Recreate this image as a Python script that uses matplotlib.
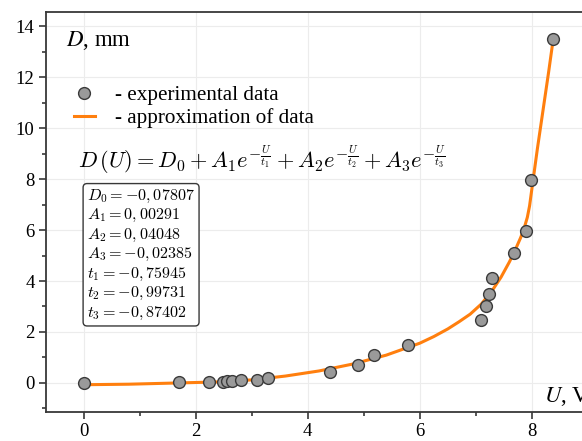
import numpy as np
import matplotlib.pyplot as plt

plt.rcParams['font.family'] = 'serif'
plt.rcParams['font.serif'] = ['Liberation Serif', 'DejaVu Serif']
plt.rcParams['mathtext.fontset'] = 'stix'

# experimental points (U in V, D in mm)
u_exp = [0.0, 1.70, 2.24, 2.49, 2.56, 2.64, 2.80, 3.10, 3.29, 4.39, 4.89, 5.18, 5.79,
         7.09, 7.19, 7.24, 7.29, 7.68, 7.89, 7.98, 8.38]
d_exp = [0.0, 0.02, 0.04, 0.05, 0.06, 0.08, 0.12, 0.12, 0.18, 0.43, 0.71, 1.10, 1.49,
         2.48, 3.00, 3.49, 4.10, 5.08, 5.98, 7.97, 13.49]

# approximation curve
u_fit = [0.0, 0.8, 1.7, 2.4, 3.0, 3.6, 4.2, 4.8, 5.4, 6.0, 6.25, 6.5, 6.7, 6.9, 7.1,
         7.3, 7.45, 7.6, 7.7, 7.8, 7.86, 7.92, 7.96, 8.0, 8.05, 8.1, 8.2, 8.3, 8.38]
d_fit = [-0.07, -0.05, 0.0, 0.04, 0.12, 0.27, 0.47, 0.74, 1.09, 1.56, 1.82, 2.12, 2.4,
         2.7, 3.1, 3.65, 4.15, 4.75, 5.2, 5.7, 6.05, 6.5, 6.95, 7.6, 8.4, 9.2, 10.7,
         12.2, 13.46]

params = [r'D_0 = -0,07807', r'A_1 = 0,00291', r'A_2 = 0,04048', r'A_3 = -0,02385',
          r't_1 = -0,75945', r't_2 = -0,99731', r't_3 = -0,87402']

fig = plt.figure(figsize=(5.82, 4.41), dpi=100)
ax = fig.add_axes([0.0785, 0.0658, 0.970, 0.9077])

ax.plot(u_fit, d_fit, color='#ff7f0e', lw=2.2, zorder=3, label='- approximation of data',
        solid_joinstyle='round')
ax.plot(u_exp, d_exp, 'o', ms=8.5, mfc='#9a9a9a', mec='#3a3a3a', mew=1.0, zorder=4,
        label='- experimental data')

ax.set_xlim(-0.68, 9.4)
ax.set_ylim(-1.14, 14.57)
ax.set_xticks([0, 2, 4, 6, 8])
ax.set_xticks([1, 3, 5, 7, 9], minor=True)
ax.set_yticks(range(0, 15, 2))
ax.set_yticks(range(-1, 15, 2), minor=True)
ax.grid(True, color='#ececec', lw=0.8)
ax.set_axisbelow(True)

for s in ax.spines.values():
    s.set_color('#383838')
    s.set_linewidth(1.3)
ax.tick_params(which='major', length=5, width=1.2, color='#383838', labelsize=13.5, pad=3)
ax.tick_params(which='minor', length=3, width=1.2, color='#383838')

ax.text(-0.32, 13.45, r'$D$, mm', fontsize=16.5, va='center', ha='left')
ax.text(8.22, -0.52, r'$U$, V', fontsize=16.5, va='center', ha='left')

h, l = ax.get_legend_handles_labels()
ax.legend([h[1], h[0]], [l[1], l[0]], loc='upper left', bbox_to_anchor=(0.05, 0.816),
          borderaxespad=0, borderpad=0, frameon=False, fontsize=15.2,
          handlelength=1.0, handletextpad=0.95, labelspacing=0.15)

ax.text(-0.1, 8.75,
        r'$D\,(U) = D_0 + A_1 e^{-\frac{U}{t_1}} + A_2 e^{-\frac{U}{t_2}} + A_3 e^{-\frac{U}{t_3}}$',
        fontsize=16.1, math_fontfamily='cm', va='center', ha='left')

ax.text(0.06, 5.03, '\n'.join('$' + p + '$' for p in params), fontsize=11.6,
        math_fontfamily='cm', va='center', ha='left', linespacing=1.2,
        bbox=dict(boxstyle='round,pad=0.25', fc='white', ec='#383838', lw=1.0))

fig.savefig('out.png', dpi=100)
